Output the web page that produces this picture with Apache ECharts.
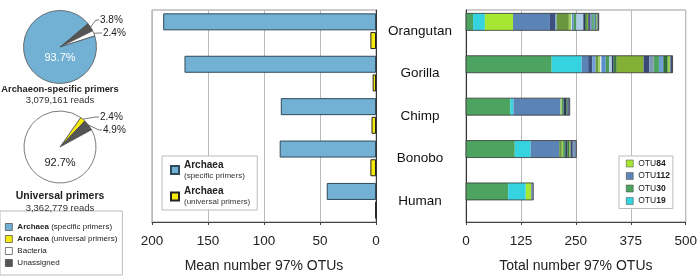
<!DOCTYPE html>
<html>
<head>
<meta charset="utf-8">
<script src="https://cdn.jsdelivr.net/npm/echarts@6/dist/echarts.min.js"></script>
<style>
  html, body { margin: 0; padding: 0; background: #fff; }
  #chart { width: 700px; height: 278px; }
</style>
</head>
<body>
<div id="chart"></div>
<script>
// hosts, top to bottom
const categories = ["Orangutan", "Gorilla", "Chimp", "Bonobo", "Human"];

// mean number of 97% OTUs
const specificMeans = [190, 171, 85, 86, 44];
const universalMeans = [5, 3, 4, 5, 0.5];

// pie shares (%)
const specificPieNames = ["Unassigned", "Bacteria", "Archaea (specific primers)"];
const specificPieValues = [3.8, 2.4, 93.7];
const universalPieNames = ["Archaea (universal primers)", "Unassigned", "Bacteria"];
const universalPieValues = [2.4, 4.9, 92.7];

// total number of 97% OTUs, stacked by OTU
const otu30 = [16, 195, 101, 111, 96];
const otu19 = [27, 68, 7, 36, 40];
const otu84 = [64, 0, 0, 0, 12];
const otu112 = [84, 15, 107, 65, 0];
const otherOtuColors = [
  "#3d4f7c", "#6f9fd6", "#6a9640", "#9ccf5a", "#e6eedc", "#5b8fd0",
  "#4e9a58", "#aecbe6", "#2c3a5e", "#3a7a40", "#82b135", "#3a4878",
  "#7d97b8", "#4ea35f", "#6f9fd6", "#2f6e3a", "#9ccf5a", "#3d4f7c",
];
const otherOtuValues = [
  [12, 9, 0, 0, 0],
  [3, 8, 0, 0, 0],
  [28, 6, 0, 6, 0],
  [5, 4, 3, 3, 0],
  [2, 3, 0, 0, 0],
  [4, 10, 0, 0, 0],
  [6, 8, 4, 5, 0],
  [16, 6, 0, 0, 0],
  [4, 4, 6, 5, 0],
  [4, 7, 3, 4, 0],
  [3, 61, 0, 3, 0],
  [4, 13, 3, 5, 0],
  [5, 10, 2, 8, 5],
  [4, 12, 0, 0, 0],
  [3, 10, 0, 0, 0],
  [3, 10, 0, 0, 0],
  [2, 6, 0, 0, 0],
  [3, 5, 0, 0, 0],
];

const BLUE = "#72b1d3";
const YELLOW = "#f6ea0a";
const GREY = "#555";
const BAR_W = 17;

const totals = categories.map((_, i) =>
  otu30[i] + otu19[i] + otu84[i] + otu112[i] +
  otherOtuValues.reduce((s, v) => s + v[i], 0)
);

const pieColors = {
  "Archaea (specific primers)": BLUE,
  "Archaea (universal primers)": YELLOW,
  Bacteria: "#fff",
  Unassigned: GREY,
};

function pieData(names, values, bigLabelColor) {
  return names.map((name, i) => {
    const big = values[i] > 50;
    return {
      name,
      value: values[i],
      itemStyle: { color: pieColors[name] },
      label: big
        ? { position: "center", color: bigLabelColor, fontSize: 11 }
        : { position: "outside", fontSize: 10, color: "#222" },
      labelLine: { show: !big },
    };
  });
}

// where the small slice labels sit (label row y, text x) and how far the big one drops
function pieLabelLayout(cy, smallRows, bigDrop) {
  return (params) => {
    const row = smallRows[params.dataIndex];
    if (row === undefined) return { dy: bigDrop };
    const p = params.labelLinePoints;
    return {
      x: row[0],
      y: cy + row[1],
      align: "left",
      verticalAlign: "middle",
      labelLinePoints: p ? [p[0], [row[0] - 4, cy + row[1]], [row[0] - 1, cy + row[1]]] : undefined,
    };
  };
}

const pieBase = {
  type: "pie",
  clockwise: true,
  avoidLabelOverlap: false,
  silent: true,
  itemStyle: { borderColor: "#444", borderWidth: 0.7 },
  label: { formatter: "{c}%" },
  labelLine: { length: 4, length2: 4, lineStyle: { color: "#444", width: 0.7 } },
};

const otuSeries = [
  { name: "OTU30", data: otu30, color: "#4da460" },
  { name: "OTU19", data: otu19, color: "#35d3e0" },
  { name: "OTU84", data: otu84, color: "#a6e733" },
  { name: "OTU112", data: otu112, color: "#5b84b6" },
].concat(
  otherOtuValues.map((vals, k) => ({
    name: "otu_other_" + k,
    data: vals,
    color: otherOtuColors[k],
  }))
).map((s) => ({
  type: "bar",
  name: s.name,
  xAxisIndex: 1,
  yAxisIndex: 1,
  stack: "otus",
  barWidth: BAR_W,
  barGap: "10%",
  data: s.data,
  itemStyle: { color: s.color },
}));

const chart = echarts.init(document.getElementById("chart"), null, { renderer: "canvas" });

chart.setOption({
  animation: false,
  textStyle: { fontFamily: "Liberation Sans, Arial, sans-serif" },
  title: [
    {
      text: "Archaeon-specific primers",
      subtext: "3,079,161 reads",
      left: 60,
      top: 85,
      textAlign: "center",
      itemGap: 1,
      padding: 0,
      textStyle: { fontSize: 9.3, fontWeight: "bold", color: "#222" },
      subtextStyle: { fontSize: 9.5, color: "#333" },
    },
    {
      text: "Universal primers",
      subtext: "3,362,779 reads",
      left: 60,
      top: 191,
      textAlign: "center",
      itemGap: 1,
      padding: 0,
      textStyle: { fontSize: 10.5, fontWeight: "bold", color: "#222" },
      subtextStyle: { fontSize: 9.5, color: "#333" },
    },
  ],
  legend: [
    {
      data: ["Archaea (specific primers)", "Archaea (universal primers)", "Bacteria", "Unassigned"],
      orient: "vertical",
      left: 0,
      top: 211,
      width: 118,
      itemWidth: 7,
      itemHeight: 7,
      itemGap: 4,
      padding: [12, 5, 8, 5],
      borderColor: "#bbb",
      borderWidth: 1,
      icon: "rect",
      selectedMode: false,
      itemStyle: { borderColor: "#444", borderWidth: 0.7 },
      formatter: (name) =>
        name.startsWith("Archaea") ? "{b|Archaea}" + name.slice(7) : name,
      textStyle: {
        fontSize: 8,
        color: "#222",
        lineHeight: 8,
        rich: { b: { fontSize: 8, fontWeight: "bold", color: "#222" } },
      },
    },
    {
      data: ["Archaea (specific primers)", "Archaea (universal primers)"],
      orient: "vertical",
      left: 162,
      top: 156,
      itemWidth: 8,
      itemHeight: 8,
      itemGap: 7,
      padding: [4, 7, 4, 8],
      backgroundColor: "#fff",
      borderColor: "#bbb",
      borderWidth: 1,
      icon: "rect",
      selectedMode: false,
      formatter: (name) => "{b|Archaea}\n{s|" + name.slice(8) + "}",
      textStyle: {
        color: "#222",
        rich: {
          b: { fontSize: 10, fontWeight: "bold", lineHeight: 11, color: "#222" },
          s: { fontSize: 8, lineHeight: 10, color: "#333" },
        },
      },
    },
    {
      data: ["OTU84", "OTU112", "OTU30", "OTU19"],
      orient: "vertical",
      left: 619,
      top: 156,
      itemWidth: 7,
      itemHeight: 7,
      itemGap: 3.5,
      padding: [3, 3, 3, 7],
      backgroundColor: "#fff",
      borderColor: "#bbb",
      borderWidth: 1,
      icon: "rect",
      selectedMode: false,
      itemStyle: { borderColor: "#444", borderWidth: 0.5 },
      formatter: (name) => "OTU{b|" + name.slice(3) + "}",
      textStyle: {
        fontSize: 8.5,
        color: "#222",
        rich: { b: { fontSize: 8.5, fontWeight: "bold", color: "#222" } },
      },
    },
  ],
  grid: [
    { left: 152, right: 324, top: 10, bottom: 53, show: true, borderColor: "#999", borderWidth: 1 },
    { left: 466, right: 10, top: 10, bottom: 53, show: true, borderColor: "#999", borderWidth: 1 },
  ],
  xAxis: [
    {
      gridIndex: 0,
      type: "value",
      inverse: true,
      min: 0,
      max: 200,
      interval: 50,
      name: "Mean number 97% OTUs",
      nameLocation: "middle",
      nameGap: 37,
      nameTextStyle: { fontSize: 14, color: "#222" },
      axisLine: { show: true, lineStyle: { color: "#444" } },
      axisTick: { show: true, length: 3, lineStyle: { color: "#444" } },
      axisLabel: { fontSize: 13.5, color: "#222", margin: 12 },
      splitLine: { lineStyle: { color: "#bbb" } },
    },
    {
      gridIndex: 1,
      type: "value",
      min: 0,
      max: 500,
      interval: 125,
      name: "Total number 97% OTUs",
      nameLocation: "middle",
      nameGap: 37,
      nameTextStyle: { fontSize: 14, color: "#222" },
      axisLine: { show: true, lineStyle: { color: "#444" } },
      axisTick: { show: true, length: 3, lineStyle: { color: "#444" } },
      axisLabel: { fontSize: 13.5, color: "#222", margin: 12 },
      splitLine: { lineStyle: { color: "#bbb" } },
    },
  ],
  yAxis: [
    {
      gridIndex: 0,
      type: "category",
      data: categories,
      inverse: true,
      position: "right",
      axisLine: { lineStyle: { color: "#333" } },
      axisTick: { length: 3, lineStyle: { color: "#333" } },
      axisLabel: { fontSize: 13.5, color: "#111", align: "center", margin: 44 },
    },
    {
      gridIndex: 1,
      type: "category",
      data: categories,
      inverse: true,
      position: "left",
      axisLine: { lineStyle: { color: "#333" } },
      axisTick: { length: 3, lineStyle: { color: "#333" } },
      axisLabel: { show: false },
    },
  ],
  series: [
    Object.assign({}, pieBase, {
      center: [60, 47],
      radius: 36.5,
      startAngle: 40,
      data: pieData(specificPieNames, specificPieValues, "#fff"),
      labelLayout: pieLabelLayout(47, { 0: [100, -27], 1: [103, -14] }, 11),
    }),
    Object.assign({}, pieBase, {
      center: [60, 147],
      radius: 36,
      startAngle: 55,
      data: pieData(universalPieNames, universalPieValues, "#222"),
      labelLayout: pieLabelLayout(147, { 0: [100, -30], 1: [103, -17] }, 16),
    }),
    {
      type: "bar",
      name: "Archaea (specific primers)",
      xAxisIndex: 0,
      yAxisIndex: 0,
      barWidth: BAR_W,
      barGap: "10%",
      data: specificMeans,
      itemStyle: { color: BLUE, borderColor: "#2f4a5a", borderWidth: 1 },
    },
    {
      type: "bar",
      name: "Archaea (universal primers)",
      xAxisIndex: 0,
      yAxisIndex: 0,
      barWidth: BAR_W,
      barGap: "10%",
      data: universalMeans,
      itemStyle: { color: YELLOW, borderColor: "#222", borderWidth: 1 },
    },
    ...otuSeries,
    {
      // empty second slot so the stacks sit like the blue bars
      type: "bar",
      name: "pad",
      xAxisIndex: 1,
      yAxisIndex: 1,
      stack: "pad",
      barWidth: BAR_W,
      barGap: "10%",
      data: categories.map(() => 0),
      itemStyle: { color: "transparent" },
    },
    {
      // thin outline around each stacked bar
      type: "custom",
      xAxisIndex: 1,
      yAxisIndex: 1,
      silent: true,
      z: 10,
      data: totals.map((t, i) => [t, i]),
      renderItem: (params, api) => {
        const end = api.coord([api.value(0), api.value(1)]);
        const start = api.coord([0, api.value(1)]);
        const y = end[1] - (BAR_W * 2.1) / 2;
        return {
          type: "rect",
          shape: { x: start[0], y: y, width: end[0] - start[0], height: BAR_W },
          style: { fill: "none", stroke: "#333", lineWidth: 0.8 },
        };
      },
    },
  ],
});
</script>
</body>
</html>
